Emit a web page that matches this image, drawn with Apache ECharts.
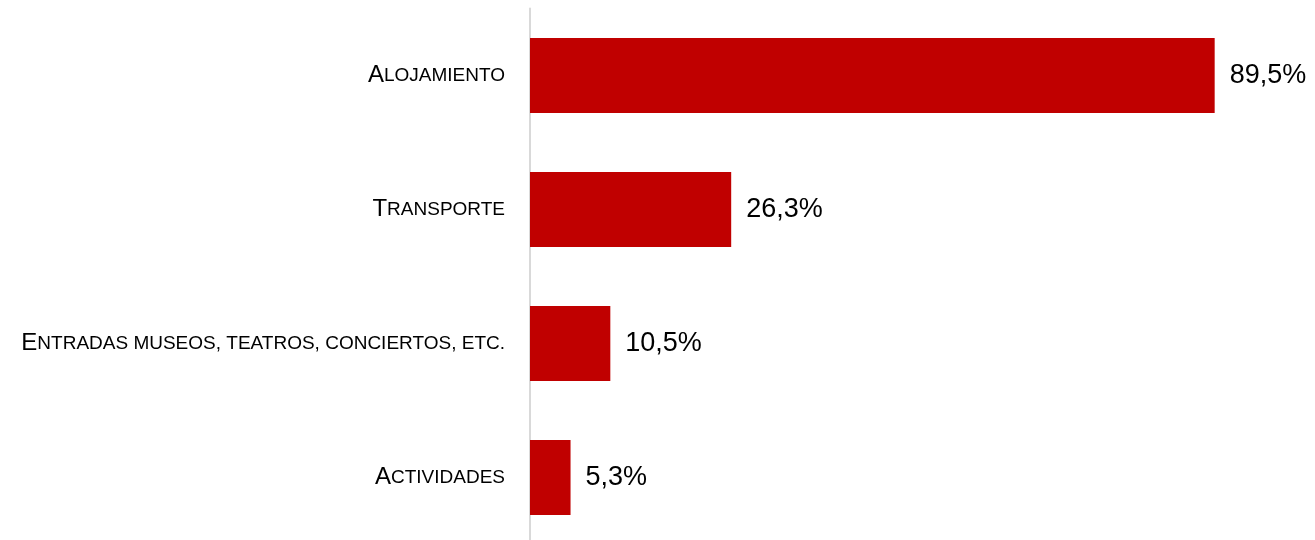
<!DOCTYPE html>
<html>
<head>
<meta charset="utf-8">
<script src="https://cdn.jsdelivr.net/npm/echarts@6/dist/echarts.min.js"></script>
<style>
html,body{margin:0;padding:0;background:#fff;}
#chart{width:1315px;height:540px;}
</style>
</head>
<body>
<div id="chart"></div>
<script>
const categories = ['Alojamiento', 'Transporte', 'Entradas museos, teatros, conciertos, etc.', 'Actividades'];
const values = [89.5, 26.3, 10.5, 5.3];

const chart = echarts.init(document.getElementById('chart'), null, {renderer: 'canvas'});

function smallCaps(s) {
  const first = s.charAt(0);
  const rest = s.slice(1).toUpperCase();
  return '{a|' + first + '}{b|' + rest + '}';
}

chart.setOption({
  animation: false,
  grid: {left: 530, width: 765, top: 8.5, height: 536, containLabel: false, outerBoundsMode: 'none'},
  xAxis: {
    type: 'value', min: 0, max: 100,
    show: false
  },
  yAxis: {
    type: 'category',
    inverse: true,
    data: categories,
    axisLine: {show: true, lineStyle: {color: '#d9d9d9', width: 2}},
    axisTick: {show: false},
    axisLabel: {
      margin: 25,
      formatter: v => smallCaps(v),
      rich: {
        a: {fontFamily: '"Liberation Sans Narrow", "Liberation Sans", sans-serif', fontSize: 24, color: '#000'},
        b: {fontFamily: '"Liberation Sans Narrow", "Liberation Sans", sans-serif', fontSize: 19, color: '#000'}
      }
    }
  },
  series: [{
    type: 'bar',
    data: values,
    barWidth: 75,
    itemStyle: {color: '#c00000'},
    label: {
      show: true,
      position: 'right',
      distance: 15,
      formatter: p => String(p.value.toFixed(1)).replace('.', ',') + '%',
      fontFamily: '"Liberation Sans", Arial, sans-serif',
      fontSize: 27,
      color: '#000'
    }
  }]
});
</script>
</body>
</html>
